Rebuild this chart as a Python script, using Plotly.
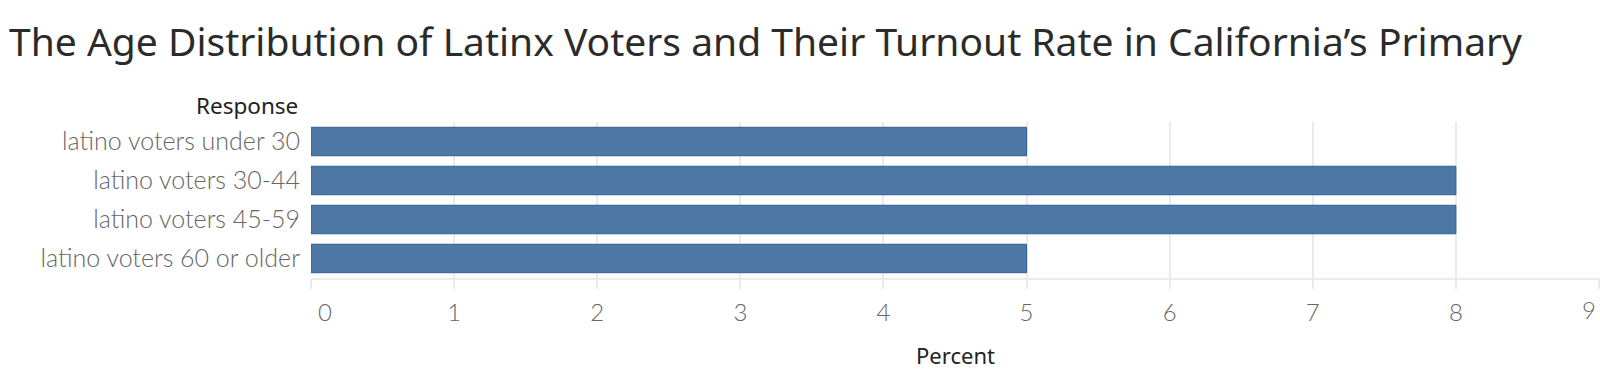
import plotly.graph_objects as go

categories = ["latino voters under 30", "latino voters 30-44", "latino voters 45-59", "latino voters 60 or older"]
percent = [5, 8, 8, 5]
x_ticks = [0, 1, 2, 3, 4, 5, 6, 7, 8, 9]
x_tick_text = ["\u2007\u20070", "1", "2", "3", "4", "5", "6", "7", "8", ""]
last_tick = x_ticks[-1]

W, H = 1600, 385
L, R, T, B = 311, 0, 122, 107
PLOT_H = H - T - B

tick_font = dict(family="Lato", size=24, color="#666666", weight=300)

fig = go.Figure()
fig.add_trace(go.Bar(
    y=categories, x=percent, orientation="h",
    marker=dict(color="#4e79a7", line=dict(color="#2f5f90", width=1)),
    width=0.73,
))

fig.update_layout(
    width=W, height=H,
    margin=dict(l=L, r=R, t=T, b=B, autoexpand=False),
    paper_bgcolor="white", plot_bgcolor="white",
    showlegend=False,
    title=dict(
        text="The Age Distribution of Latinx Voters and Their Turnout Rate in California’s Primary",
        x=9 / W, xanchor="left", xref="container",
        y=1 - 42 / H, yanchor="middle", yref="container",
        font=dict(family="Noto Sans", size=39, color="#2b2b2b"),
    ),
    xaxis=dict(
        range=[0, 9.007], tickvals=x_ticks, ticktext=x_tick_text,
        showgrid=True, gridcolor="#ebebeb", gridwidth=1.5,
        showline=True, linecolor="#ebebeb", linewidth=2,
        ticks="outside", ticklen=9, tickcolor="#ebebeb", tickwidth=1.5,
        tickfont=tick_font,
        ticklabelstandoff=3,
        zeroline=False, automargin=False,
        title=dict(text="Percent", font=dict(family="Noto Sans", size=22, color="#222222"), standoff=24),
        fixedrange=True,
    ),
    yaxis=dict(
        categoryorder="array", categoryarray=categories, autorange="reversed",
        showgrid=False, zeroline=False, showline=False,
        ticks="", ticklabelstandoff=10, automargin=False,
        tickfont=dict(family="Lato", size=25, color="#666666", weight=300),
        fixedrange=True,
    ),
    annotations=[
        dict(
            text="Response", xref="paper", yref="paper",
            x=-11 / (W - L - R), xanchor="right", y=1 + 16 / PLOT_H, yanchor="middle",
            showarrow=False, font=dict(family="Noto Sans", size=22.5, color="#222222"),
        ),
        dict(
            text=str(last_tick), xref="x", yref="paper",
            x=last_tick, xanchor="right", xshift=-1,
            y=-31 / PLOT_H, yanchor="middle",
            showarrow=False, font=tick_font,
        ),
    ],
    bargap=0.27,
)

fig.write_html("out.html", config={"displayModeBar": False},
               post_script="document.body.style.margin='0';")
